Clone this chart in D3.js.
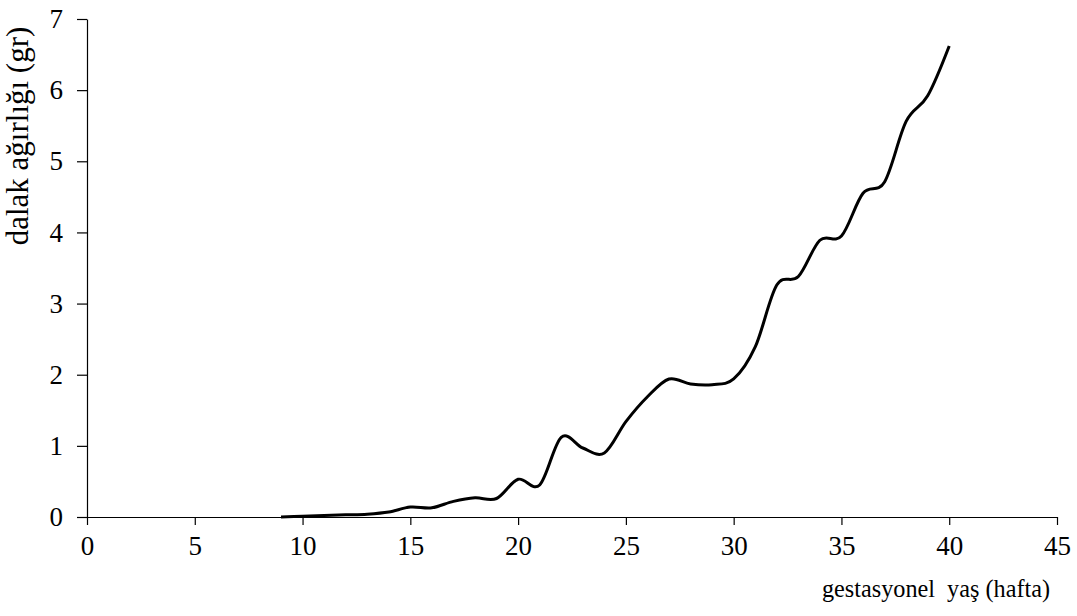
<!DOCTYPE html>
<html>
<head>
<meta charset="utf-8">
<script src="https://cdn.jsdelivr.net/npm/d3@7"></script>
<style>
  html, body { margin: 0; padding: 0; background: #fff; }
  svg text { font-family: "Liberation Serif", "Times New Roman", serif; fill: #000; }
</style>
</head>
<body>
<svg id="chart" width="1077" height="616"></svg>
<script>
// Gestational age (weeks) and mean spleen weight (g)
const weeks = [9, 10, 11, 12, 13, 14, 15, 16, 17, 18, 19, 20, 21, 22, 23, 24, 25, 26, 27, 28, 29, 30, 31, 32, 33, 34, 35, 36, 37, 38, 39, 40];
const spleenWeight = [0.0, 0.01, 0.02, 0.03, 0.04, 0.07, 0.14, 0.13, 0.22, 0.27, 0.26, 0.53, 0.45, 1.12, 0.97, 0.90, 1.34, 1.69, 1.94, 1.87, 1.86, 1.94, 2.39, 3.26, 3.38, 3.89, 3.95, 4.55, 4.71, 5.56, 5.92, 6.62];
const xTicks = [0, 5, 10, 15, 20, 25, 30, 35, 40, 45];
const yTicks = [0, 1, 2, 3, 4, 5, 6, 7];
const xTitle = "gestasyonel  yaş (hafta)";
const yTitle = "dalak ağırlığı (gr)";

const svg = d3.select("#chart");

const x = d3.scaleLinear().domain([0, 45]).range([87, 1057]);
const y = d3.scaleLinear().domain([0, 7]).range([517, 19]);

// X axis
const gx = svg.append("g").attr("transform", `translate(0,${y(0)})`)
  .call(d3.axisBottom(x).tickValues(xTicks).tickFormat(d3.format("d"))
    .tickSize(8).tickPadding(11).tickSizeOuter(0));
gx.select(".domain").attr("stroke", "#000").attr("stroke-width", 1.2);
gx.selectAll(".tick line").attr("stroke", "#000").attr("stroke-width", 1.2);
gx.selectAll(".tick text").style("font-size", "27px");

// Y axis
const gy = svg.append("g").attr("transform", `translate(${x(0)},0)`)
  .call(d3.axisLeft(y).tickValues(yTicks).tickFormat(d3.format("d"))
    .tickSize(10).tickPadding(14).tickSizeOuter(0));
gy.select(".domain").attr("stroke", "#000").attr("stroke-width", 1.2);
gy.selectAll(".tick line").attr("stroke", "#000").attr("stroke-width", 1.2);
gy.selectAll(".tick text").style("font-size", "27px");

// Axis titles
svg.append("text")
  .attr("x", 1050).attr("y", 597)
  .attr("text-anchor", "end")
  .style("font-size", "26px")
  .attr("textLength", 228)
  .attr("lengthAdjust", "spacingAndGlyphs")
  .attr("xml:space", "preserve")
  .text(xTitle);

svg.append("text")
  .attr("transform", `translate(28,136) rotate(-90)`)
  .attr("text-anchor", "middle")
  .style("font-size", "31px")
  .text(yTitle);

// Smoothed growth curve
const data = weeks.map((w, i) => ({ w, v: spleenWeight[i] }));
svg.append("path")
  .datum(data)
  .attr("fill", "none")
  .attr("stroke", "#000")
  .attr("stroke-width", 3)
  .attr("stroke-linejoin", "round")
  .attr("d", d3.line().x(d => x(d.w)).y(d => y(d.v)).curve(d3.curveCatmullRom.alpha(0)));
</script>
</body>
</html>
